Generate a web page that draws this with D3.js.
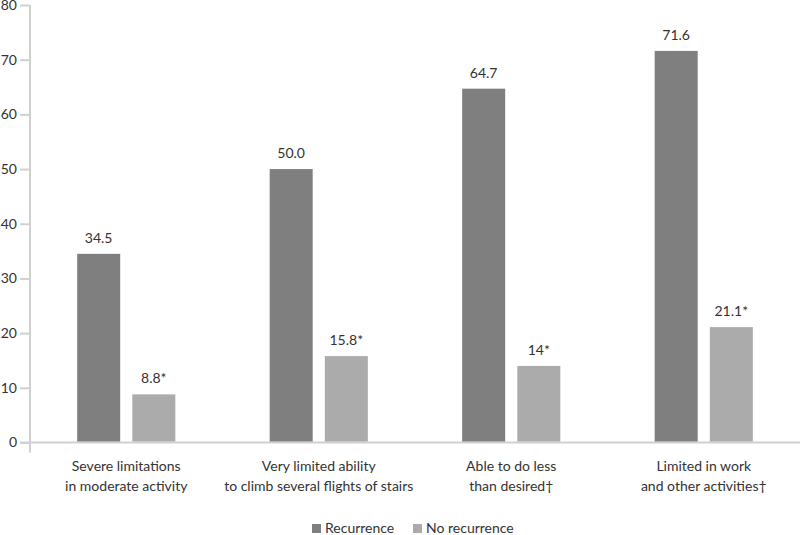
<!DOCTYPE html>
<html>
<head>
<meta charset="utf-8">
<script src="https://cdn.jsdelivr.net/npm/d3@7"></script>
<style>
    body { margin: 0; background: #fff; }
    text { font-family: Lato, "Open Sans", sans-serif; fill: #333; }
</style>
</head>
<body>
<div id="chart"></div>
<script>
// data
let categories = [
    ["Severe limitations", "in moderate activity"],
    ["Very limited ability", "to climb several flights of stairs"],
    ["Able to do less", "than desired\u2020"],
    ["Limited in work", "and other activities\u2020"]
];
let seriesNames = ["Recurrence", "No recurrence"];
let recurrence = [34.5, 50.0, 64.7, 71.6];
let noRecurrence = [8.8, 15.8, 14, 21.1];
let valueLabels = [
    ["34.5", "50.0", "64.7", "71.6"],
    ["8.8*", "15.8*", "14*", "21.1*"]
];
let yTicks = [0, 10, 20, 30, 40, 50, 60, 70, 80];
let colors = ["#7f7f7f", "#ababab"];

let width = 800, height = 535;
let margin = { top: 5, right: 0, bottom: 92.5, left: 30 };

let svg = d3.select("#chart").append("svg")
    .attr("width", width)
    .attr("height", height);

let x = d3.scaleBand()
    .domain(d3.range(categories.length))
    .range([margin.left, width - margin.right])
    .paddingInner(0.49)
    .paddingOuter(0.245);

let x1 = d3.scaleBand()
    .domain([0, 1])
    .range([0, x.bandwidth()])
    .paddingInner(0.22);

let y = d3.scaleLinear()
    .domain([0, 80])
    .range([height - margin.bottom, margin.top]);

// y axis
let yAxis = svg.append("g")
    .attr("transform", `translate(${margin.left},0)`)
    .call(d3.axisLeft(y).tickValues(yTicks).tickSize(10).tickPadding(3));
yAxis.select(".domain").remove();
yAxis.selectAll(".tick line").attr("stroke", "#d0d0d0").attr("stroke-width", 2);
yAxis.selectAll(".tick text")
    .style("font-size", "14px")
    .style("font-family", "Lato, sans-serif")
    .attr("fill", "#444");

svg.append("line")
    .attr("x1", margin.left).attr("x2", margin.left)
    .attr("y1", y(80)).attr("y2", y(0) + 10)
    .attr("stroke", "#d0d0d0").attr("stroke-width", 2);

svg.append("line")
    .attr("x1", margin.left - 10).attr("x2", width)
    .attr("y1", y(0)).attr("y2", y(0))
    .attr("stroke", "#d0d0d0").attr("stroke-width", 2);

// bars
let series = [recurrence, noRecurrence];
series.forEach(function(vals, s){
    svg.selectAll(".bar-" + s)
        .data(vals)
        .enter()
        .append("rect")
        .attr("class", "bar-" + s)
        .attr("fill", colors[s])
        .attr("x", (d, i) => x(i) + x1(s))
        .attr("width", x1.bandwidth())
        .attr("y", d => y(d))
        .attr("height", d => y(0) - y(d) - 1);

    svg.selectAll(".lab-" + s)
        .data(vals)
        .enter()
        .append("text")
        .attr("class", "lab-" + s)
        .attr("x", (d, i) => x(i) + x1(s) + x1.bandwidth() / 2)
        .attr("y", d => y(d) - 11)
        .attr("text-anchor", "middle")
        .style("font-size", "14px")
        .text((d, i) => valueLabels[s][i]);
});

// category labels
categories.forEach(function(lines, i){
    let t = svg.append("text")
        .attr("text-anchor", "middle")
        .style("font-size", "14px")
        .attr("fill", "#444");
    lines.forEach(function(l, j){
        t.append("tspan")
            .attr("x", x(i) + x.bandwidth() / 2)
            .attr("y", 471 + j * 20)
            .text(l);
    });
});

// legend
let legendX = [312, 413];
seriesNames.forEach(function(name, i){
    svg.append("rect")
        .attr("x", legendX[i]).attr("y", 524)
        .attr("width", 9).attr("height", 9)
        .attr("fill", colors[i]);
    svg.append("text")
        .attr("x", legendX[i] + 13).attr("y", 533)
        .style("font-size", "14px")
        .attr("fill", "#444")
        .text(name);
});
</script>
</body>
</html>
